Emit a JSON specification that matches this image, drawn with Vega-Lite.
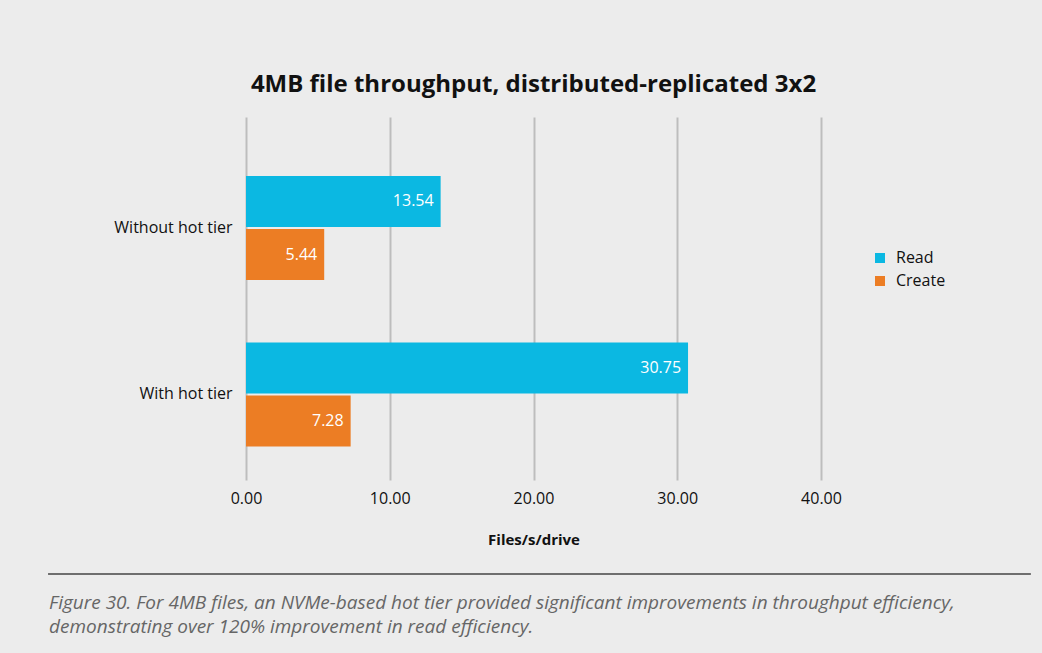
{
  "$schema": "https://vega.github.io/schema/vega-lite/v6.json",
  "background": "#ececec",
  "padding": {"left": 47, "top": 73, "right": 10, "bottom": 10},
  "config": {"view": {"stroke": null}, "font": "Open Sans"},
  "spacing": 26,
  "vconcat": [
    {
      "width": 575,
      "height": 363,
      "title": {"text": "4MB file throughput, distributed-replicated 3x2", "fontSize": 24, "fontWeight": "bold", "color": "#111111", "offset": 20},
      "data": {"values": [
        {"config": "Without hot tier", "operation": "Read", "value": 13.54},
        {"config": "Without hot tier", "operation": "Create", "value": 5.44},
        {"config": "With hot tier", "operation": "Read", "value": 30.75},
        {"config": "With hot tier", "operation": "Create", "value": 7.28}
      ]},
      "encoding": {
        "y": {"field": "config", "type": "nominal", "sort": ["Without hot tier", "With hot tier"],
          "scale": {"paddingInner": 0.375, "paddingOuter": 0.2778, "align": 0.638},
          "axis": {"title": null, "domain": false, "ticks": false, "labelFontSize": 16, "labelPadding": 14, "labelColor": "#111111"}},
        "yOffset": {"field": "operation", "type": "nominal", "sort": ["Read", "Create"], "scale": {"paddingInner": 0.04}},
        "x": {"field": "value", "type": "quantitative", "scale": {"domain": [0, 40], "nice": false},
          "axis": {"grid": true, "gridColor": "#bdbdbd", "gridWidth": 2, "domain": false, "ticks": false, "values": [0, 10, 20, 30, 40], "format": ".2f", "labelFlush": false, "labelFontSize": 16, "labelPadding": 10, "labelColor": "#111111", "title": "Files/s/drive", "titleFontSize": 15, "titleFontWeight": "bold", "titlePadding": 26, "titleColor": "#111111"}}
      },
      "layer": [
        {
          "mark": {"type": "bar"},
          "encoding": {
            "color": {"field": "operation", "type": "nominal",
              "scale": {"domain": ["Read", "Create"], "range": ["#0bb8e2", "#ec7d24"]},
              "legend": {"title": null, "orient": "none", "legendX": 626, "legendY": 133, "labelFontSize": 16, "labelColor": "#111111", "symbolType": "square", "symbolSize": 100, "symbolStrokeWidth": 0, "rowPadding": 7, "labelOffset": 8}}
          }
        },
        {
          "mark": {"type": "text", "align": "right", "dx": -7, "color": "white", "fontSize": 16},
          "encoding": {"text": {"field": "value", "type": "quantitative", "format": ".2f"}}
        }
      ]
    },
    {
      "width": 575,
      "height": 72,
      "data": {"values": [
        {"line": 1, "caption": "Figure 30. For 4MB files, an NVMe-based hot tier provided significant improvements in throughput efficiency,"},
        {"line": 2, "caption": "demonstrating over 120% improvement in read efficiency."}
      ]},
      "layer": [
        {
          "transform": [{"filter": "datum.line == 1"}],
          "mark": {"type": "rule", "color": "#6e6e6e", "strokeWidth": 2},
          "encoding": {
            "x": {"datum": -13.77, "type": "quantitative", "scale": {"domain": [0, 40], "nice": false, "zero": false}, "axis": null},
            "x2": {"datum": 54.6},
            "y": {"datum": -0.2, "type": "quantitative", "scale": {"domain": [-0.2, 2.8], "reverse": true, "nice": false, "zero": false}, "axis": null}
          }
        },
        {
          "mark": {"type": "text", "align": "left", "baseline": "middle", "fontSize": 19, "fontStyle": "italic", "color": "#666666"},
          "encoding": {
            "x": {"datum": -13.7, "type": "quantitative"},
            "y": {"field": "line", "type": "quantitative"},
            "text": {"field": "caption", "type": "nominal"}
          }
        }
      ]
    }
  ]
}
